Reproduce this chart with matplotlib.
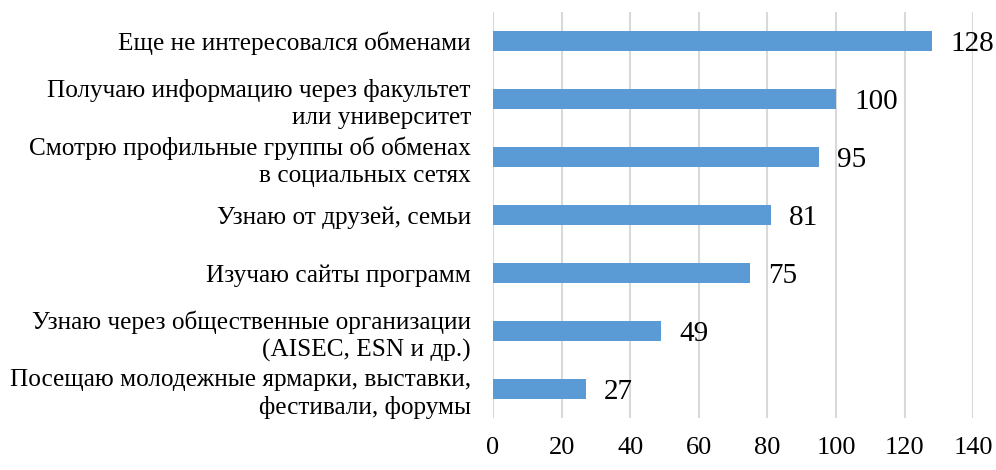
import matplotlib.pyplot as plt
import numpy as np

plt.rcParams['font.family'] = ['Liberation Serif', 'DejaVu Serif']

categories = [
    'Еще не интересовался обменами',
    'Получаю информацию через факультет\nили университет',
    'Смотрю профильные группы об обменах\nв социальных сетях',
    'Узнаю от друзей, семьи',
    'Изучаю сайты программ',
    'Узнаю через общественные организации\n(AISEC, ESN и др.)',
    'Посещаю молодежные ярмарки, выставки,\nфестивали, форумы',
]
values = [128, 100, 95, 81, 75, 49, 27]
x_ticks = [0, 20, 40, 60, 80, 100, 120, 140]

fig = plt.figure(figsize=(9.96, 4.70), dpi=100)
ax = fig.add_axes([0.495, 0.111, 0.482, 0.863])

y = np.arange(len(categories))
ax.barh(y, values, height=0.35, color='#5B9BD5', zorder=3)
for yi, v in zip(y, values):
    ax.annotate(str(v), (v, yi), xytext=(13, -2), textcoords='offset points',
                va='center', ha='left', fontsize=21, color='black')

ax.set_xlim(0, 140)
ax.set_ylim(len(categories) - 0.5, -0.5)
ax.set_xticks(x_ticks)
ax.set_xticklabels([str(t) for t in x_ticks], fontsize=19)
ax.set_yticks(y)
ax.set_yticklabels(categories, fontsize=18.2, linespacing=1.3)
ax.tick_params(axis='both', length=0)
ax.tick_params(axis='x', pad=14)
ax.tick_params(axis='y', pad=16)
ax.grid(axis='x', color='#d9d9d9', linewidth=1.5, zorder=0)
for s in ax.spines.values():
    s.set_visible(False)

fig.savefig('out.png', dpi=100)
